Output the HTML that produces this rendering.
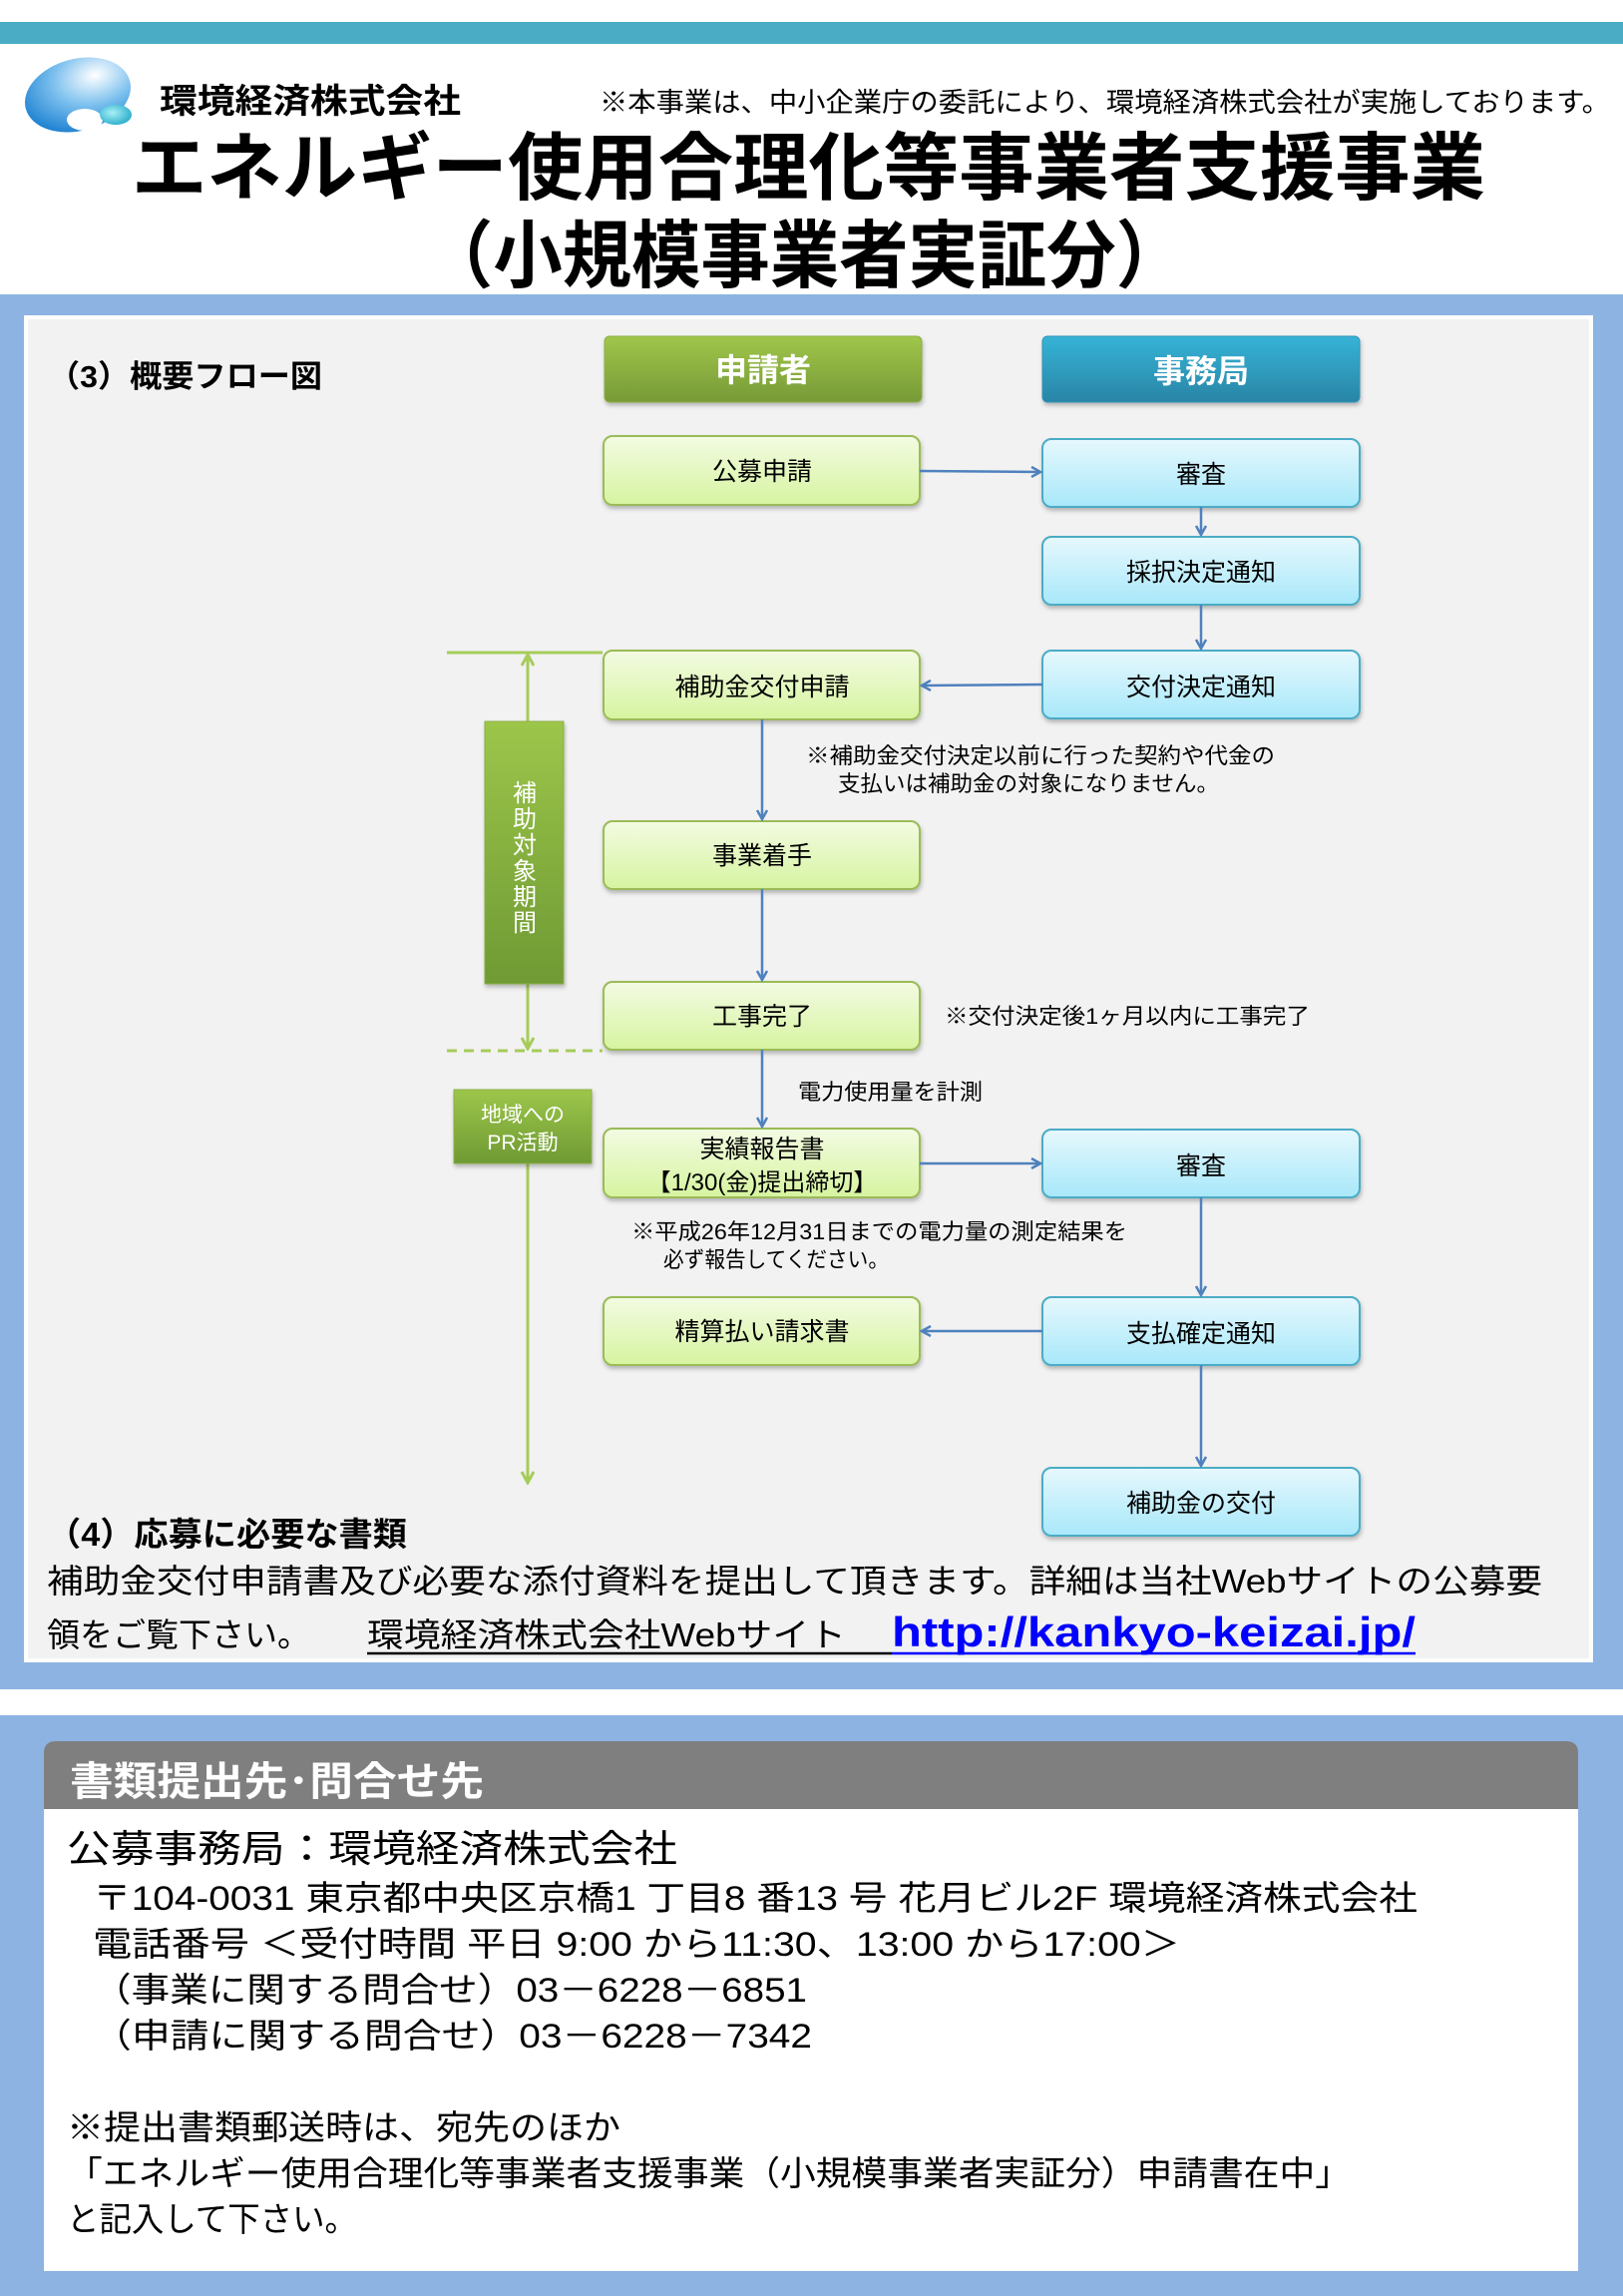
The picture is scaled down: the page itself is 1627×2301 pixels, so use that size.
<!DOCTYPE html>
<html><head><meta charset="utf-8"><style>
html,body{margin:0;padding:0;background:#fff;}
svg{display:block;}
text{font-family:"Liberation Sans","Noto Sans CJK JP",sans-serif;}
</style></head><body>
<svg width="1627" height="2301" viewBox="0 0 1627 2301" xmlns="http://www.w3.org/2000/svg">
<defs>
<linearGradient id="gG" x1="0" y1="0" x2="0" y2="1"><stop offset="0" stop-color="#f3fbe2"/><stop offset="1" stop-color="#d6f4a0"/></linearGradient>
<linearGradient id="gB" x1="0" y1="0" x2="0" y2="1"><stop offset="0" stop-color="#e6f8fd"/><stop offset="1" stop-color="#a8e8fa"/></linearGradient>
<linearGradient id="hG" x1="0" y1="0" x2="0" y2="1"><stop offset="0" stop-color="#a0c64a"/><stop offset="1" stop-color="#779a37"/></linearGradient>
<linearGradient id="hB" x1="0" y1="0" x2="0" y2="1"><stop offset="0" stop-color="#35b3d6"/><stop offset="1" stop-color="#2a85a6"/></linearGradient>
<linearGradient id="sG" x1="0" y1="0" x2="0" y2="1"><stop offset="0" stop-color="#9cc64a"/><stop offset="1" stop-color="#6f9a34"/></linearGradient>
<radialGradient id="logo" cx="0.7" cy="0.3" r="0.8"><stop offset="0" stop-color="#ffffff"/><stop offset="0.5" stop-color="#7cc0ee"/><stop offset="1" stop-color="#1a7fd0"/></radialGradient>
<radialGradient id="logo2" cx="0.4" cy="0.4" r="0.7"><stop offset="0" stop-color="#a8f0f5"/><stop offset="1" stop-color="#1fa8c8"/></radialGradient>
<marker id="ab" viewBox="0 0 12 12" refX="10" refY="6" markerWidth="12" markerHeight="12" markerUnits="userSpaceOnUse" orient="auto"><path d="M1,1 L10,6 L1,11" fill="none" stroke="#4f81bd" stroke-width="2.5"/></marker>
<marker id="ag" viewBox="0 0 14 14" refX="12" refY="7" markerWidth="14" markerHeight="14" markerUnits="userSpaceOnUse" orient="auto"><path d="M1,1 L12,7 L1,13" fill="none" stroke="#a6cc5a" stroke-width="3"/></marker>
<filter id="sh" x="-5%" y="-5%" width="110%" height="120%"><feDropShadow dx="1" dy="3" stdDeviation="2" flood-color="#000" flood-opacity="0.25"/></filter>
</defs>

<rect x="0" y="22" width="1627" height="22" fill="#4bacc6"/>
<!-- logo -->
<ellipse cx="78" cy="95" rx="54" ry="36" fill="url(#logo)" transform="rotate(-15 78 95)"/>
<ellipse cx="85" cy="120" rx="18" ry="11" fill="#fff"/>
<ellipse cx="116" cy="115" rx="16" ry="10" fill="url(#logo2)"/>
<text x="160" y="113" font-size="34" font-weight="bold" textLength="302" lengthAdjust="spacingAndGlyphs">環境経済株式会社</text>
<text x="601" y="112" font-size="27" textLength="1013" lengthAdjust="spacingAndGlyphs">※本事業は、中小企業庁の委託により、環境経済株式会社が実施しております。</text>
<text x="132" y="194" font-size="74" font-weight="bold" textLength="1357" lengthAdjust="spacingAndGlyphs">エネルギー使用合理化等事業者支援事業</text>
<text x="425" y="282" font-size="74" font-weight="bold" textLength="763" lengthAdjust="spacingAndGlyphs">（小規模事業者実証分）</text>

<!-- blue panel 1 -->
<rect x="0" y="295" width="1627" height="398" fill="#8db3e2"/>
<rect x="0" y="295" width="1627" height="1398" fill="#8db3e2"/>
<rect x="24" y="316" width="1573" height="1350" fill="#fff"/>
<rect x="28" y="320" width="1565" height="1342" fill="#f2f2f2"/>

<text x="48" y="388" font-size="31" font-weight="bold" textLength="275" lengthAdjust="spacingAndGlyphs">（3）概要フロー図</text>

<!-- headers -->
<rect x="606" y="337" width="318" height="66" rx="5" fill="url(#hG)" stroke="#8cb04a" filter="url(#sh)"/>
<text x="765" y="382" font-size="32" font-weight="bold" fill="#fff" text-anchor="middle">申請者</text>
<rect x="1045" y="337" width="318" height="66" rx="5" fill="url(#hB)" stroke="#2f96b8" filter="url(#sh)"/>
<text x="1204" y="383" font-size="32" font-weight="bold" fill="#fff" text-anchor="middle">事務局</text>

<!-- green boxes -->
<g stroke="#9bbb59" stroke-width="2" fill="url(#gG)" filter="url(#sh)">
<rect x="605" y="437" width="317" height="69" rx="9"/>
<rect x="605" y="652" width="317" height="69" rx="9"/>
<rect x="605" y="823" width="317" height="68" rx="9"/>
<rect x="605" y="984" width="317" height="68" rx="9"/>
<rect x="605" y="1131" width="317" height="69" rx="9"/>
<rect x="605" y="1300" width="317" height="68" rx="9"/>
</g>
<g stroke="#4bacc6" stroke-width="2" fill="url(#gB)" filter="url(#sh)">
<rect x="1045" y="440" width="318" height="68" rx="9"/>
<rect x="1045" y="538" width="318" height="68" rx="9"/>
<rect x="1045" y="652" width="318" height="68" rx="9"/>
<rect x="1045" y="1132" width="318" height="68" rx="9"/>
<rect x="1045" y="1300" width="318" height="68" rx="9"/>
<rect x="1045" y="1471" width="318" height="68" rx="9"/>
</g>
<g font-size="25" text-anchor="middle" fill="#000">
<text x="764" y="481">公募申請</text>
<text x="764" y="697">補助金交付申請</text>
<text x="764" y="866">事業着手</text>
<text x="764" y="1027">工事完了</text>
<text x="764" y="1160">実績報告書</text>
<text x="764" y="1193" font-size="24">【1/30(金)提出締切】</text>
<text x="764" y="1343">精算払い請求書</text>
<text x="1204" y="484">審査</text>
<text x="1204" y="582">採択決定通知</text>
<text x="1204" y="697">交付決定通知</text>
<text x="1204" y="1177">審査</text>
<text x="1204" y="1345">支払確定通知</text>
<text x="1204" y="1515">補助金の交付</text>
</g>

<!-- arrows -->
<g stroke="#4f81bd" stroke-width="2.5" fill="none" marker-end="url(#ab)">
<line x1="922" y1="472" x2="1043" y2="473"/>
<line x1="1204" y1="508" x2="1204" y2="536"/>
<line x1="1204" y1="606" x2="1204" y2="650"/>
<line x1="1045" y1="686" x2="924" y2="687"/>
<line x1="764" y1="721" x2="764" y2="821"/>
<line x1="764" y1="891" x2="764" y2="982"/>
<line x1="764" y1="1052" x2="764" y2="1129"/>
<line x1="922" y1="1166" x2="1043" y2="1166"/>
<line x1="1204" y1="1200" x2="1204" y2="1298"/>
<line x1="1045" y1="1334" x2="924" y2="1334"/>
<line x1="1204" y1="1368" x2="1204" y2="1469"/>
</g>

<!-- left period markers -->
<line x1="448" y1="654" x2="604" y2="654" stroke="#a6cc5a" stroke-width="3"/>
<line x1="448" y1="1053" x2="604" y2="1053" stroke="#a6cc5a" stroke-width="3" stroke-dasharray="10,7"/>
<line x1="529" y1="723" x2="529" y2="656" stroke="#a6cc5a" stroke-width="3" marker-end="url(#ag)"/>
<line x1="529" y1="986" x2="529" y2="1051" stroke="#a6cc5a" stroke-width="3" marker-end="url(#ag)"/>
<line x1="529" y1="1166" x2="529" y2="1486" stroke="#a6cc5a" stroke-width="3" marker-end="url(#ag)"/>
<rect x="486" y="723" width="79" height="263" fill="url(#sG)" stroke="#8cb04a" filter="url(#sh)"/>
<g font-size="24" fill="#fff" text-anchor="middle">
<text x="526" y="803">補</text><text x="526" y="829">助</text><text x="526" y="855">対</text><text x="526" y="881">象</text><text x="526" y="907">期</text><text x="526" y="933">間</text>
</g>
<rect x="455" y="1092" width="138" height="74" fill="url(#sG)" stroke="#8cb04a" filter="url(#sh)"/>
<text x="524" y="1124" font-size="21" fill="#fff" text-anchor="middle">地域への</text>
<text x="524" y="1152" font-size="21" fill="#fff" text-anchor="middle">PR活動</text>

<!-- notes -->
<g font-size="22" fill="#000">
<text x="808" y="765" textLength="470" lengthAdjust="spacingAndGlyphs">※補助金交付決定以前に行った契約や代金の</text>
<text x="840" y="793" textLength="382" lengthAdjust="spacingAndGlyphs">支払いは補助金の対象になりません。</text>
<text x="947" y="1026" textLength="366" lengthAdjust="spacingAndGlyphs">※交付決定後1ヶ月以内に工事完了</text>
<text x="800" y="1102" textLength="185" lengthAdjust="spacingAndGlyphs">電力使用量を計測</text>
<text x="633" y="1242" textLength="497" lengthAdjust="spacingAndGlyphs">※平成26年12月31日までの電力量の測定結果を</text>
<text x="665" y="1270" textLength="226" lengthAdjust="spacingAndGlyphs">必ず報告してください。</text>
</g>

<!-- (4) -->
<text x="47" y="1549" font-size="33" font-weight="bold" textLength="361" lengthAdjust="spacingAndGlyphs">（4）応募に必要な書類</text>
<text x="47" y="1596" font-size="33" textLength="1499" lengthAdjust="spacingAndGlyphs">補助金交付申請書及び必要な添付資料を提出して頂きます。詳細は当社Webサイトの公募要</text>
<text x="47" y="1650" font-size="33" textLength="264" lengthAdjust="spacingAndGlyphs">領をご覧下さい。</text>
<text x="368" y="1650" font-size="33" textLength="480" lengthAdjust="spacingAndGlyphs">環境経済株式会社Webサイト</text>
<line x1="368" y1="1657" x2="894" y2="1657" stroke="#000" stroke-width="2.5"/>
<text x="894" y="1650" font-size="42" font-weight="bold" fill="#0000ff" textLength="525" lengthAdjust="spacingAndGlyphs">http://kankyo-keizai.jp/</text>
<line x1="894" y1="1657" x2="1419" y2="1657" stroke="#0000ff" stroke-width="2.5"/>

<!-- contact section -->
<rect x="0" y="1719" width="1627" height="582" fill="#8db3e2"/>
<path d="M44,1813 L44,1757 Q44,1745 56,1745 L1570,1745 Q1582,1745 1582,1757 L1582,1813 Z" fill="#7f7f7f"/>
<rect x="44" y="1813" width="1538" height="463" fill="#fff"/>
<text x="70" y="1799" font-size="40" font-weight="bold" fill="#fff" textLength="415" lengthAdjust="spacingAndGlyphs">書類提出先･問合せ先</text>
<text x="67" y="1866" font-size="38" textLength="612" lengthAdjust="spacingAndGlyphs">公募事務局：環境経済株式会社</text>
<g font-size="34">
<text x="93" y="1914" textLength="1328" lengthAdjust="spacingAndGlyphs">〒104-0031  東京都中央区京橋1 丁目8 番13 号 花月ビル2F  環境経済株式会社</text>
<text x="93" y="1960" textLength="1090" lengthAdjust="spacingAndGlyphs">電話番号  ＜受付時間  平日 9:00 から11:30、13:00 から17:00＞</text>
<text x="93" y="2006" textLength="716" lengthAdjust="spacingAndGlyphs">（事業に関する問合せ）03－6228－6851</text>
<text x="93" y="2052" textLength="721" lengthAdjust="spacingAndGlyphs">（申請に関する問合せ）03－6228－7342</text>
<text x="67" y="2144" textLength="555" lengthAdjust="spacingAndGlyphs">※提出書類郵送時は、宛先のほか</text>
<text x="67" y="2190" textLength="1287" lengthAdjust="spacingAndGlyphs">「エネルギー使用合理化等事業者支援事業（小規模事業者実証分）申請書在中」</text>
<text x="67" y="2236" textLength="291" lengthAdjust="spacingAndGlyphs">と記入して下さい。</text>
</g>
</svg>
</body></html>
